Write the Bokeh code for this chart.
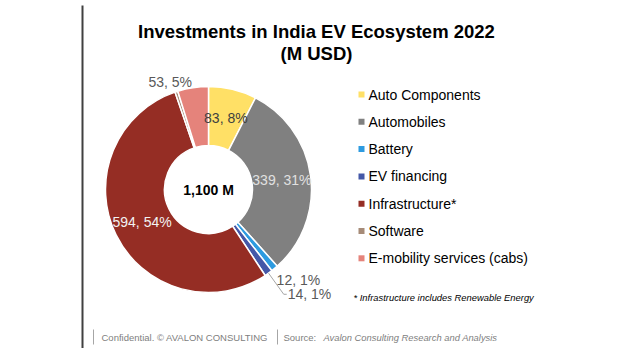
import math
from bokeh.plotting import figure
from bokeh.models import Range1d, ColumnDataSource
from bokeh.core.properties import value
from bokeh.embed import file_html
from bokeh.resources import INLINE

# ---- data ----
categories = ["Auto Components", "Automobiles", "Battery", "EV financing",
              "Infrastructure*", "Software", "E-mobility services (cabs)"]
values = [83, 339, 12, 14, 594, 5, 53]
labels = ["83, 8%", "339, 31%", "12, 1%", "14, 1%", "594, 54%", "", "53, 5%"]
colors = ["#FFE066", "#808080", "#2E9BE0", "#4458A8", "#952D24", "#A68B78", "#E5837B"]
label_colors = ["#404040", "#E0E0E0", "#595959", "#595959", "#F2F2F2", "#595959", "#595959"]
label_place = ["in", "in", "out_r", "out_r_lead", "in", "none", "out_l"]
total_text = "1,100 M"
title_lines = ["Investments in India EV Ecosystem 2022", "(M USD)"]
footnote = "* Infrastructure includes Renewable Energy"

W, H = 619, 348
FONT = "Liberation Sans"

def py(y):
    return H - y

p = figure(width=W, height=H, output_backend="svg", toolbar_location=None,
           x_range=Range1d(0, W), y_range=Range1d(0, H), min_border=0)
p.axis.visible = False
p.grid.visible = False
p.outline_line_color = None
p.background_fill_color = "white"

# ---- donut ----
cx, cy = 208, 189
r_in, r_out = 44, 103
tot = float(sum(values))
starts, ends, mids = [], [], []
acc = 0.0
for v in values:
    a0 = math.pi / 2 - acc / tot * 2 * math.pi
    acc += v
    a1 = math.pi / 2 - acc / tot * 2 * math.pi
    starts.append(a0)
    ends.append(a1)
    mids.append((a0 + a1) / 2)

src = ColumnDataSource(dict(start=starts, end=ends, color=colors))
p.annular_wedge(x=cx, y=py(cy), inner_radius=r_in, outer_radius=r_out,
                start_angle="start", end_angle="end", direction="clock",
                fill_color="color", line_color="white", line_width=1.5, source=src)

LFS = "14px"
# ---- slice labels ----
for lab, col, place, m in zip(labels, label_colors, label_place, mids):
    if place == "none" or not lab:
        continue
    ux, uy = math.cos(m), math.sin(m)
    if place == "in":
        r = 74
        p.text(x=[cx + r * ux], y=[py(cy) + r * uy], text=[lab], text_color=col,
               text_font=value(FONT), text_font_size=LFS,
               text_align="center", text_baseline="middle")
    elif place == "out_l":
        r = 109
        p.text(x=[cx + r * ux], y=[py(cy) + r * uy], text=[lab], text_color=col,
               text_font=value(FONT), text_font_size=LFS,
               text_align="right", text_baseline="middle")
    elif place == "out_r":
        r = 117
        p.text(x=[cx + r * ux - 7], y=[py(cy) + r * uy - 1], text=[lab], text_color=col,
               text_font=value(FONT), text_font_size=LFS,
               text_align="left", text_baseline="middle")
    elif place == "out_r_lead":
        x0, y0 = cx + r_out * ux, py(cy) + r_out * uy
        r = 129
        x1, y1 = cx + r * ux, py(cy) + r * uy
        p.line(x=[x0, x1, x1 + 3], y=[y0, y1, y1], line_color="#A6A6A6", line_width=1)
        p.text(x=[x1 + 4], y=[y1], text=[lab], text_color=col,
               text_font=value(FONT), text_font_size=LFS,
               text_align="left", text_baseline="middle")

# center total
p.text(x=[cx], y=[py(cy)], text=[total_text], text_color="#000000",
       text_font=value(FONT), text_font_size="14px", text_font_style="bold",
       text_align="center", text_baseline="middle")

# ---- title ----
for i, t in enumerate(title_lines):
    p.text(x=[316], y=[py(31 + i * 22)], text=[t], text_color="#000000",
           text_font=value(FONT), text_font_size="18.5px", text_font_style="bold",
           text_align="center", text_baseline="middle")

# ---- legend ----
lx, ly0, ldy = 361, 94, 27.3
for i, (c, col) in enumerate(zip(categories, colors)):
    yy = py(ly0 + i * ldy)
    p.scatter(x=[lx], y=[yy], marker="square", size=6, fill_color=col, line_color=None)
    p.text(x=[lx + 7], y=[yy], text=[c], text_color="#000000",
           text_font=value(FONT), text_font_size="14px",
           text_align="left", text_baseline="middle")

p.text(x=[353], y=[py(297)], text=[footnote], text_color="#000000",
       text_font=value(FONT), text_font_size="9.4px", text_font_style="italic",
       text_align="left", text_baseline="middle")

# ---- frame line and footer ----
p.line(x=[82, 82], y=[py(5), py(348)], line_color="#404040", line_width=2)
p.line(x=[93, 93], y=[py(329), py(344)], line_color="#A6A6A6", line_width=1)
p.line(x=[277, 277], y=[py(329), py(344)], line_color="#A6A6A6", line_width=1)
p.text(x=[101], y=[py(337)], text=["Confidential. © AVALON CONSULTING"], text_color="#808080",
       text_font=value(FONT), text_font_size="9.5px",
       text_align="left", text_baseline="middle")
p.text(x=[283], y=[py(337)], text=["Source:"], text_color="#808080",
       text_font=value(FONT), text_font_size="9.5px",
       text_align="left", text_baseline="middle")
p.text(x=[323], y=[py(337)], text=["Avalon Consulting Research and Analysis"], text_color="#808080",
       text_font=value(FONT), text_font_size="9.4px", text_font_style="italic",
       text_align="left", text_baseline="middle")

open("out.html", "w").write(file_html(p, INLINE))
